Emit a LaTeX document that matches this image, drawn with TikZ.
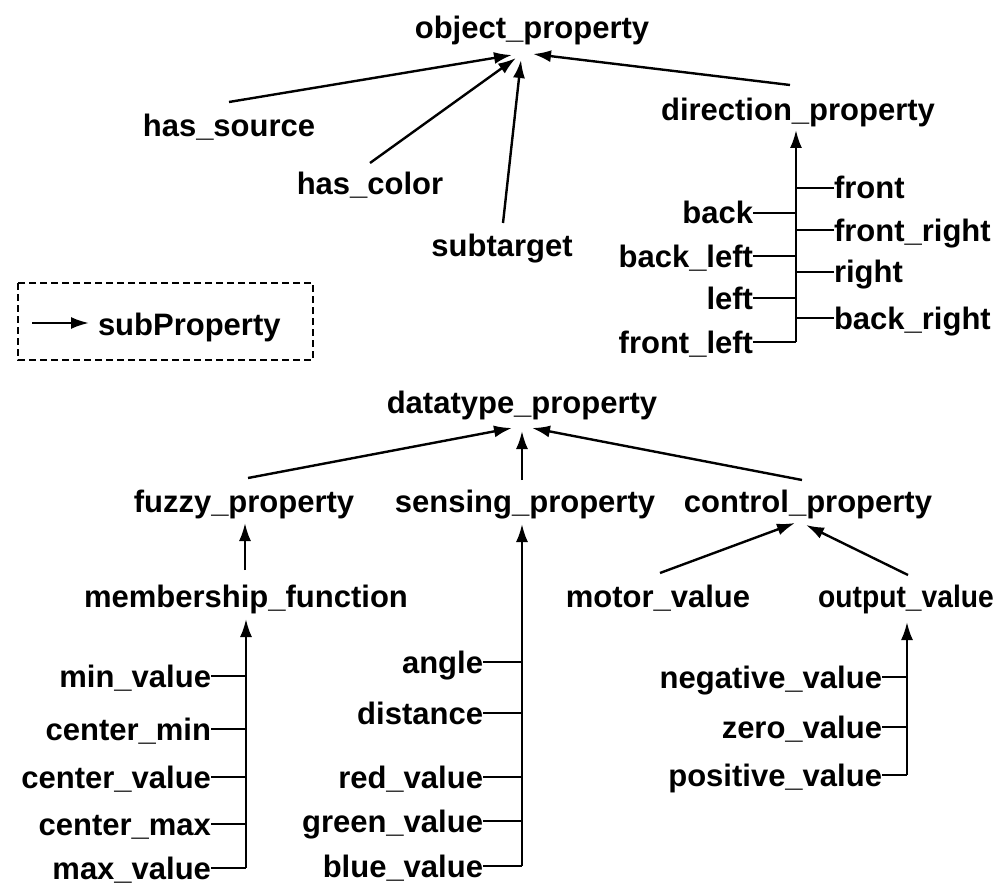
\documentclass[tikz,border=0pt]{standalone}
\usepackage{fontspec}
\setmainfont{Liberation Sans}
\usetikzlibrary{arrows.meta}
\begin{document}
\begin{tikzpicture}[x=1pt,y=-1pt,
  lbl/.style={font=\fontsize{31}{31}\selectfont\bfseries, inner sep=0pt, outer sep=0pt, text height=22pt, text depth=0pt},
  ln/.style={line width=2.4pt},
  arr/.style={line width=2.4pt, -{Latex[length=18pt,width=12pt]}},
  legendbox/.style={line width=1.6pt, dash pattern=on 7pt off 4pt}
]
\useasboundingbox (0,0) rectangle (1005,888);

% ---------- object property tree ----------
\node[lbl,anchor=base] (op) at (532,39) {object\_property};
\node[lbl,anchor=base] (hs) at (229,137) {has\_source};
\node[lbl,anchor=base] (hc) at (370,195) {has\_color};
\node[lbl,anchor=base] (st) at (502,256) {subtarget};
\node[lbl,anchor=base] (dp) at (798,121) {direction\_property};

\coordinate (opA) at (512,55);
\coordinate (opB) at (516,58);
\coordinate (opC) at (521,60);
\coordinate (opD) at (533,54);

\draw[arr] ([yshift=13pt]hs.north) -- (opA);
\draw[arr] ([yshift=10pt]hc.north) -- (opB);
\draw[arr] ([xshift=1pt,yshift=11pt]st.north) -- (opC);
\draw[arr] ([xshift=-8pt,yshift=14pt]dp.north) -- (opD);

% direction children
\node[lbl,anchor=west] (fr)  at (834,188) {front};
\node[lbl,anchor=west] (frr) at (834,230) {front\_right};
\node[lbl,anchor=west] (ri)  at (834,272) {right};
\node[lbl,anchor=west] (br)  at (834,318) {back\_right};
\node[lbl,anchor=east] (ba)  at (753,213) {back};
\node[lbl,anchor=east] (bl)  at (753,256) {back\_left};
\node[lbl,anchor=east] (le)  at (753,298) {left};
\node[lbl,anchor=east] (fl)  at (753,342) {front\_left};

\coordinate (dtip) at (796,130);
\coordinate (dbot) at (796,342);
\draw[arr] (dbot) -- (dtip);
\foreach \n in {fr,frr,ri,br} \draw[ln] (\n.west) -- (\n.west -| dbot);
\foreach \n in {ba,bl,le,fl} \draw[ln] (\n.east) -- (\n.east -| dbot);

% ---------- legend ----------
\draw[legendbox] (18,283) rectangle (313,360);
\node[lbl,anchor=base west] (sprop) at (98,335) {subProperty};
\coordinate (legA) at (32,323);
\coordinate (legB) at (89,323);
\draw[arr] (legA) -- (legB);

% ---------- datatype property tree ----------
\node[lbl,anchor=base] (dt) at (522,413) {datatype\_property};
\node[lbl,anchor=base] (fp) at (244,512) {fuzzy\_property};
\node[lbl,anchor=base] (sp) at (525,512) {sensing\_property};
\node[lbl,anchor=base] (cp) at (808,512) {control\_property};
\node[lbl,anchor=base] (mf) at (246,607) {membership\_function};
\node[lbl,anchor=base] (mv) at (658,607) {motor\_value};
\node[lbl,anchor=base] (ov) at (906,607) {\scalebox{0.91}[1]{output\_value}};

\coordinate (dtA) at (512,428);
\coordinate (dtB) at (522,431);
\coordinate (dtC) at (532,428);
\draw[arr] ([xshift=4pt,yshift=12pt]fp.north) -- (dtA);
\draw[arr] ([xshift=-3pt,yshift=10pt]sp.north) -- (dtB);
\draw[arr] ([xshift=-6pt,yshift=10pt]cp.north) -- (dtC);

% fuzzy <- membership
\coordinate (fpT) at (245,523);
\draw[arr] ([xshift=-1pt,yshift=15pt]mf.north) -- (fpT);

% control <- motor, output
\coordinate (cpA) at (795,523);
\coordinate (cpB) at (806,525);
\draw[arr] ([xshift=2pt,yshift=12pt]mv.north) -- (cpA);
\draw[arr] ([xshift=2pt,yshift=10pt]ov.north) -- (cpB);

% membership children
\node[lbl,anchor=east] (m1) at (211,676) {min\_value};
\node[lbl,anchor=east] (m2) at (211,729) {center\_min};
\node[lbl,anchor=east] (m3) at (211,777) {center\_value};
\node[lbl,anchor=east] (m4) at (211,824) {center\_max};
\node[lbl,anchor=east] (m5) at (211,868) {max\_value};
\coordinate (mfT) at (246,619);
\coordinate (mfB) at (246,868);
\draw[arr] (mfB) -- (mfT);
\foreach \n in {m1,m2,m3,m4,m5} \draw[ln] (\n.east) -- (\n.east -| mfB);

% sensing children
\node[lbl,anchor=east] (s1) at (483,662) {angle};
\node[lbl,anchor=east] (s2) at (483,713) {distance};
\node[lbl,anchor=east] (s3) at (483,777) {red\_value};
\node[lbl,anchor=east] (s4) at (483,821) {green\_value};
\node[lbl,anchor=east] (s5) at (483,866) {blue\_value};
\coordinate (spT) at (522,524);
\coordinate (spB) at (522,866);
\draw[arr] (spB) -- (spT);
\foreach \n in {s1,s2,s3,s4,s5} \draw[ln] (\n.east) -- (\n.east -| spB);

% output children
\node[lbl,anchor=east] (o1) at (882,677) {negative\_value};
\node[lbl,anchor=east] (o2) at (882,727) {zero\_value};
\node[lbl,anchor=east] (o3) at (882,775) {positive\_value};
\coordinate (ovT) at (907,622);
\coordinate (ovB) at (907,775);
\draw[arr] (ovB) -- (ovT);
\foreach \n in {o1,o2,o3} \draw[ln] (\n.east) -- (\n.east -| ovB);
\end{tikzpicture}
\end{document}
